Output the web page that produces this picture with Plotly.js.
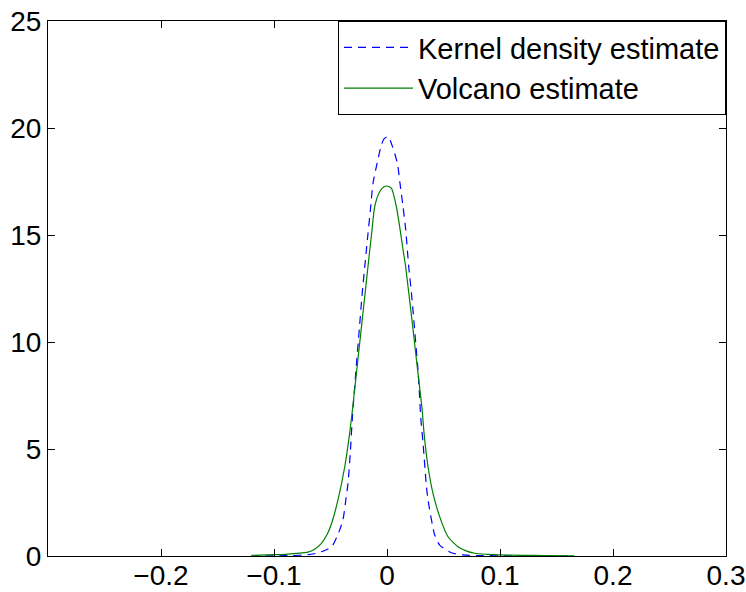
<!DOCTYPE html>
<html>
<head>
<meta charset="utf-8">
<script src="https://cdn.plot.ly/plotly-3.0.1.min.js"></script>
<style>html,body{margin:0;padding:0;background:#fff;}#chart{width:746px;height:592px;}</style>
</head>
<body>
<div id="chart"></div>
<script>
// Kernel density estimate (blue dashed)
var kdeX = [-0.12, -0.1, -0.085, -0.07, -0.063, -0.058, -0.049, -0.0436, -0.039, -0.0365, -0.0345, -0.0325, -0.0306, -0.0275, -0.0245, -0.0219, -0.0191, -0.0168, -0.0147, -0.0124, -0.0088, -0.005, -0.0025, 0.001, 0.0044, 0.0092, 0.0115, 0.0142, 0.0166, 0.0192, 0.0216, 0.0236, 0.0254, 0.0272, 0.0287, 0.0298, 0.0319, 0.0349, 0.0363, 0.0422, 0.0466, 0.057, 0.0673, 0.08, 0.1, 0.13, 0.165];
var kdeY = [0.0, 0.01, 0.02, 0.06, 0.12, 0.2, 0.43, 0.98, 1.68, 2.6, 3.4, 4.8, 6.5, 8.66, 10.6, 12.3, 13.83, 15.08, 16.17, 17.41, 18.35, 19.2, 19.5, 19.6, 19.2, 18.35, 17.41, 16.32, 15.23, 13.52, 12.3, 11.12, 9.95, 8.85, 7.6, 6.5, 5.27, 3.24, 2.62, 0.98, 0.51, 0.15, 0.05, 0.02, 0.01, 0.0, 0.0];
// Volcano estimate (green solid)
var volX = [-0.12, -0.1, -0.09, -0.08, -0.07, -0.064, -0.058, -0.053, -0.049, -0.0434, -0.0374, -0.033, -0.0306, -0.0253, -0.0205, -0.0162, -0.0133, -0.0109, -0.0065, -0.003, 0, 0.004, 0.0083, 0.0112, 0.0142, 0.0163, 0.023, 0.027, 0.031, 0.0328, 0.0363, 0.0407, 0.0466, 0.054, 0.0628, 0.07, 0.0776, 0.0887, 0.0997, 0.12, 0.14, 0.166];
var volY = [0.03, 0.06, 0.08, 0.12, 0.18, 0.32, 0.59, 1.0, 1.53, 2.62, 4.17, 5.75, 6.82, 9.4, 11.73, 13.83, 15.23, 16.32, 17.02, 17.24, 17.29, 17.18, 16.32, 15.39, 14.3, 13.6, 10.6, 8.73, 6.9, 5.73, 4.17, 2.93, 1.84, 0.9, 0.43, 0.24, 0.13, 0.08, 0.05, 0.03, 0.02, 0.01];
var seriesNames = ["Kernel density estimate", "Volcano estimate"];
var xTicks = [-0.2, -0.1, 0, 0.1, 0.2, 0.3];
var xTickText = ["\u22120.2", "\u22120.1", "0", "0.1", "0.2", "0.3"];
var yTicks = [0, 5, 10, 15, 20, 25];

var FONT = "Liberation Sans, Arial, Helvetica, sans-serif";
var traces = [
  {x: kdeX, y: kdeY, type: "scatter", mode: "lines", name: seriesNames[0],
   line: {color: "#0000ff", width: 1.2, dash: "8px,6px", shape: "spline", smoothing: 0.6}},
  {x: volX, y: volY, type: "scatter", mode: "lines", name: seriesNames[1],
   line: {color: "#008000", width: 1.2, shape: "spline", smoothing: 0.6}}
];
var axisCommon = {
  showline: true, linecolor: "#000", linewidth: 1, mirror: "ticks",
  ticks: "inside", ticklen: 7, tickwidth: 1, tickcolor: "#000",
  showgrid: false, zeroline: false,
  tickfont: {family: FONT, size: 28, color: "#000"}
};
var layout = {
  width: 746, height: 592,
  margin: {l: 48, r: 20, t: 21, b: 36},
  paper_bgcolor: "#fff", plot_bgcolor: "#fff",
  showlegend: true,
  legend: {x: 1, y: 1, xanchor: "right", yanchor: "top", bordercolor: "#000", borderwidth: 1,
           bgcolor: "#fff", font: {family: FONT, size: 29, color: "#000"}, itemwidth: 69,
           tracegroupgap: 0},
  xaxis: Object.assign({}, axisCommon, {range: [-0.3, 0.3], tickvals: xTicks, ticktext: xTickText, ticklabelstandoff: -6}),
  yaxis: Object.assign({}, axisCommon, {range: [0, 25], tickvals: yTicks})
};
Plotly.newPlot("chart", traces, layout, {displayModeBar: false, staticPlot: true});
</script>
</body>
</html>
